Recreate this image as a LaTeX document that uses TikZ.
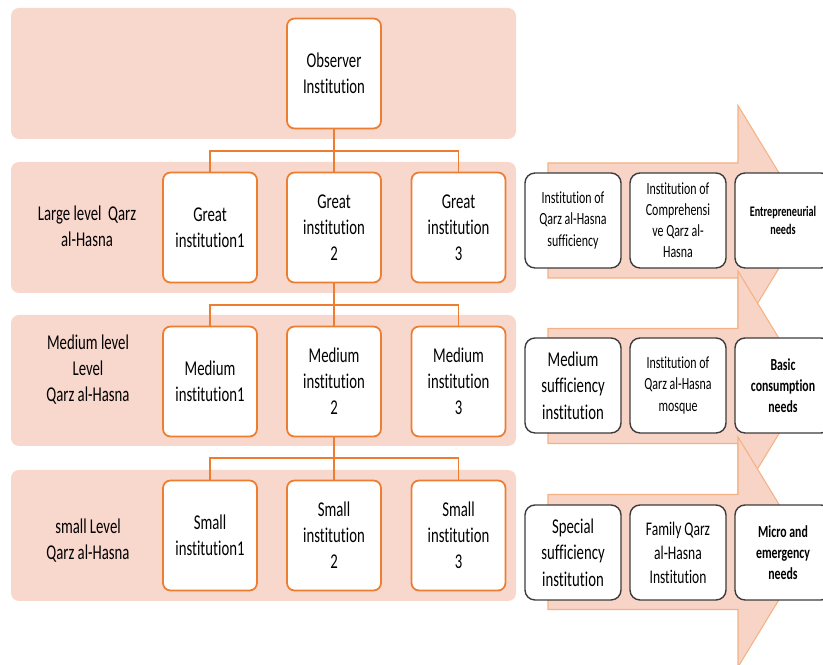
\documentclass[tikz,border=0pt]{standalone}
\usepackage{fontspec}
\setmainfont{Carlito}[FakeStretch=0.7, Ligatures=NoCommon]
\usepackage{tikz}
\definecolor{bandpink}{RGB}{248,215,205}
\definecolor{arrowpink}{RGB}{248,212,199}
\definecolor{arrowline}{RGB}{244,177,131}
\definecolor{boxorange}{RGB}{237,125,49}
\definecolor{boxgray}{RGB}{60,60,60}

\begin{document}
\begin{tikzpicture}[x=0.02cm, y=-0.02cm,
    lvlband/.style={fill=bandpink, rounded corners=0.16cm},
    bigarrow/.style={fill=arrowpink, draw=arrowline, line width=0.6pt},
    instbox/.style={draw=boxorange, fill=white, line width=1pt, rounded corners=0.15cm,
      minimum width=1.88cm, minimum height=2.2cm, align=center, inner sep=1pt,
      font=\fontsize{12}{14.8}\selectfont},
    lvllabel/.style={align=center, font=\fontsize{12}{14.8}\selectfont},
    sidebox/.style={draw=boxgray, fill=white, line width=0.8pt, rounded corners=0.2cm,
      minimum width=1.92cm, minimum height=1.9cm, align=center, inner sep=1pt},
    bigtext/.style={font=\fontsize{12}{15.2}\selectfont},
    smalltext/.style={font=\fontsize{9.7}{12}\selectfont},
    midtext/.style={font=\fontsize{11}{13.7}\selectfont},
    needtext/.style={font=\fontsize{9.6}{12}\selectfont\bfseries},
    needsmall/.style={font=\fontsize{8.3}{10.2}\selectfont\bfseries},
    link/.style={draw=boxorange, line width=0.9pt}]

\clip (0,0) rectangle (823,665);

% level bands
\foreach \t in {8,162,315,470}
  \fill[lvlband] (11,\t) rectangle (516,\t+131);

% big arrows on the right
\foreach \c in {220.5,386,552}
  \draw[bigarrow] (548,\c-57.5) -- (738,\c-57.5) -- (738,\c-115) -- (808,\c)
    -- (738,\c+115) -- (738,\c+57.5) -- (548,\c+57.5) -- cycle;

% level labels
\node[lvllabel] (lblLarge) at (87,226.5) {Large level\ \ Qarz\\al-Hasna};
\node[lvllabel] (lblMedium) at (88,370) {Medium level\\Level\\Qarz al-Hasna};
\node[lvllabel] (lblSmall) at (88,541) {small Level\\Qarz al-Hasna};

% institutions
\node[instbox] (obs) at (334,73.5) {Observer\\Institution};

\node[instbox] (g1) at (210,227.5) {Great\\institution1};
\node[instbox] (g2) at (334,227.5) {Great\\institution\\2};
\node[instbox] (g3) at (458.5,227.5) {Great\\institution\\3};

\node[instbox] (m1) at (210,381.5) {Medium\\institution1};
\node[instbox] (m2) at (334,381.5) {Medium\\institution\\2};
\node[instbox] (m3) at (458.5,381.5) {Medium\\institution\\3};

\node[instbox] (s1) at (210,535.5) {Small\\institution1};
\node[instbox] (s2) at (334,535.5) {Small\\institution\\2};
\node[instbox] (s3) at (458.5,535.5) {Small\\institution\\3};

% tree links
\coordinate (j1) at (334,151);
\coordinate (j2) at (334,305);
\coordinate (j3) at (334,458);
\draw[link] (obs.south) -- (g2.north);
\draw[link] (g1.north) |- (j1) -| (g3.north);
\draw[link] (g2.south) -- (m2.north);
\draw[link] (m1.north) |- (j2) -| (m3.north);
\draw[link] (m2.south) -- (s2.north);
\draw[link] (s1.north) |- (j3) -| (s3.north);

% boxes on the arrows
\node[sidebox, smalltext] (suffL) at (573,220.5) {Institution of\\Qarz al-Hasna\\sufficiency};
\node[sidebox, smalltext] (compL) at (678,220.5) {Institution of\\Comprehensi\\ve Qarz al-\\Hasna};
\node[sidebox, needsmall] (needL) at (783,220.5) {Entrepreneurial\\needs};

\node[sidebox, bigtext] (suffM) at (573,385.5) {Medium\\sufficiency\\institution};
\node[sidebox, smalltext] (mosqM) at (678,385.5) {Institution of\\Qarz al-Hasna\\mosque};
\node[sidebox, needtext] (needM) at (783,385.5) {Basic\\consumption\\needs};

\node[sidebox, bigtext] (suffS) at (573,552.5) {Special\\sufficiency\\institution};
\node[sidebox, midtext] (famS) at (678,552.5) {Family Qarz\\al-Hasna\\Institution};
\node[sidebox, needtext] (needS) at (783,552.5) {Micro and\\emergency\\needs};

\end{tikzpicture}
\end{document}
